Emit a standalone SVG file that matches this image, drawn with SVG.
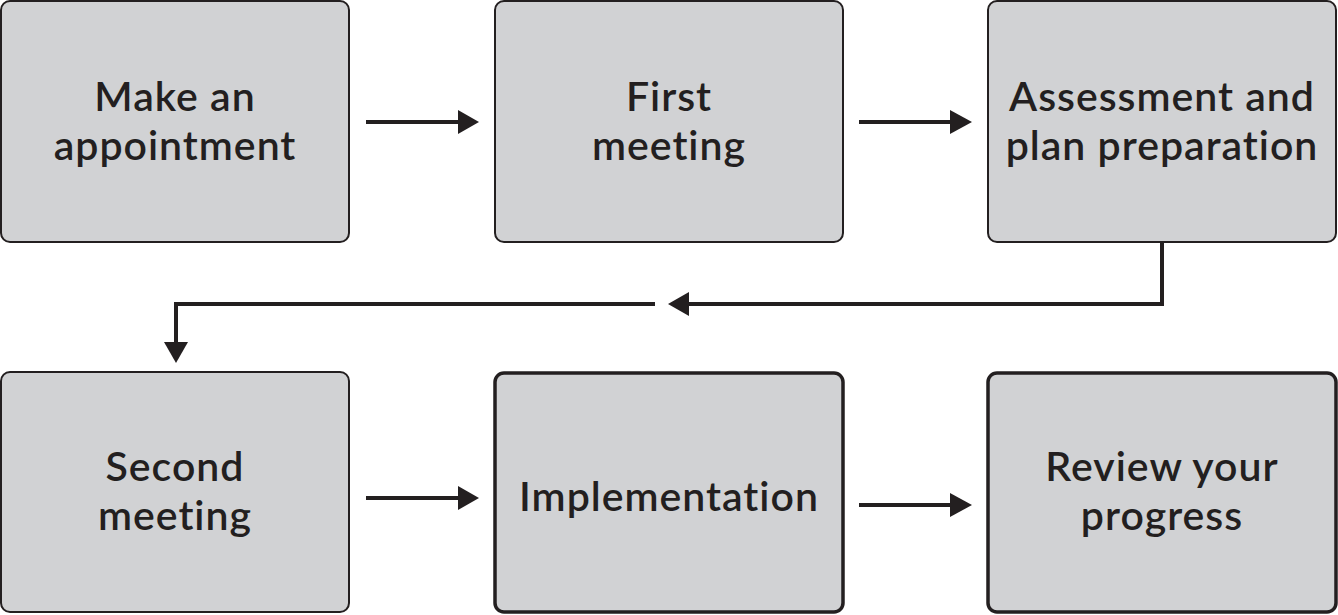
<svg xmlns="http://www.w3.org/2000/svg" width="1338" height="615" viewBox="0 0 1338 615">
<style>
.box{fill:#d1d2d4;stroke:#231f20;stroke-width:2}
.thick{stroke-width:3.5}
.lbl{font-family:Lato,"Noto Sans",sans-serif;font-weight:600;font-size:41px;letter-spacing:1px;font-variant-ligatures:none;fill:#231f20;text-anchor:middle}
.con{fill:none;stroke:#231f20;stroke-width:4}
.head{fill:#231f20}
</style>
<rect width="1338" height="615" fill="#fff"/>
<g id="n1"><rect class="box" x="1" y="1" width="348" height="241" rx="9"/><text class="lbl" x="175" y="111">Make an</text><text class="lbl" x="175" y="160">appointment</text></g>
<g id="n2"><rect class="box" x="495" y="1" width="348" height="241" rx="9"/><text class="lbl" x="669" y="111">First</text><text class="lbl" x="669" y="160">meeting</text></g>
<g id="n3"><rect class="box" x="988" y="1" width="348" height="241" rx="9"/><text class="lbl" x="1162" y="111">Assessment and</text><text class="lbl" x="1162" y="160">plan preparation</text></g>
<g id="n4"><rect class="box" x="1" y="372" width="348" height="240" rx="9"/><text class="lbl" x="175" y="481">Second</text><text class="lbl" x="175" y="530">meeting</text></g>
<g id="n5"><rect class="box thick" x="495" y="373" width="348" height="239" rx="9"/><text class="lbl" x="669" y="511">Implementation</text></g>
<g id="n6"><rect class="box thick" x="988" y="373" width="348" height="239" rx="9"/><text class="lbl" x="1162" y="481">Review your</text><text class="lbl" x="1162" y="530">progress</text></g>
<g id="connectors">
<path class="con" d="M366 122H460"/><path class="head" d="M458 110L479 122L458 134Z"/>
<path class="con" d="M859 122H952"/><path class="head" d="M950 110L972 122L950 134Z"/>
<path class="con" d="M1162 242V304H686"/><path class="head" d="M689 292L668 304L689 316Z"/>
<path class="con" d="M655 304H176V345"/><path class="head" d="M164 342L176 363L188 342Z"/>
<path class="con" d="M366 498H460"/><path class="head" d="M458 486L479 498L458 510Z"/>
<path class="con" d="M859 505H952"/><path class="head" d="M950 493L972 505L950 517Z"/>
</g>
</svg>
